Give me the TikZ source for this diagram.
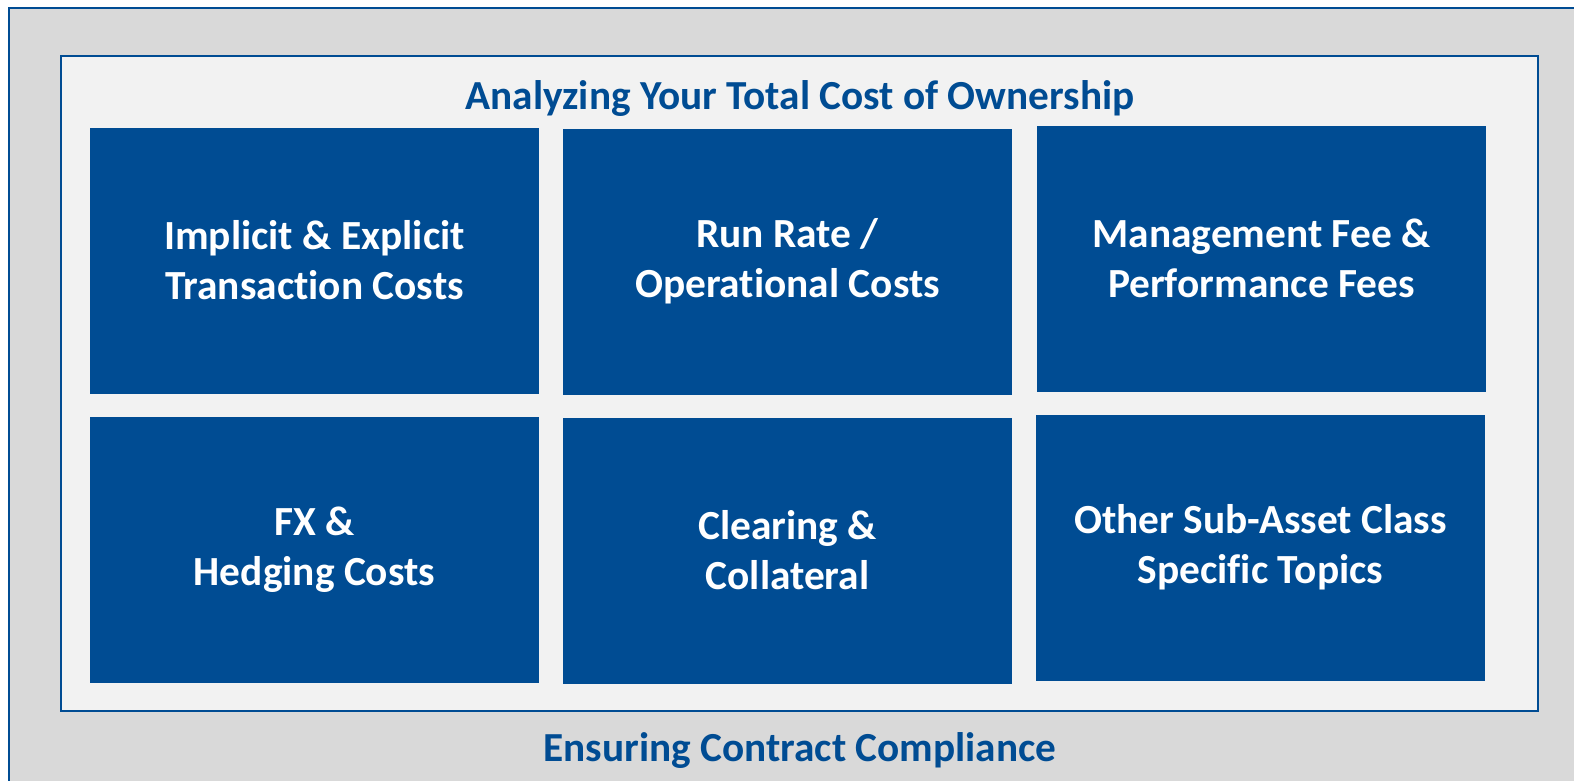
\documentclass[tikz,border=0pt]{standalone}
\usepackage{fontspec}
\setmainfont[Ligatures=NoCommon]{Carlito}
\definecolor{tcoblue}{HTML}{004C93}
\definecolor{outergray}{HTML}{D9D9D9}
\definecolor{innergray}{HTML}{F2F2F2}

\begin{document}
\begin{tikzpicture}[x=1pt,y=-1pt,line width=2pt,
  costbox/.style={fill=tcoblue,text=white,align=center,minimum width=449pt,minimum height=266pt,
    inner sep=0pt,font=\fontsize{41.4}{50}\selectfont\bfseries},
  headline/.style={text=tcoblue,font=\fontsize{41.3}{48}\selectfont\bfseries}]

\useasboundingbox(0,0) rectangle (1574,780);

\draw[draw=tcoblue,fill=outergray](9,8) rectangle (1590,800);
\draw[draw=tcoblue,fill=innergray](61,55.5) rectangle (1538,711);

\node[headline](title) at (800,99){Analyzing Your Total Cost of Ownership};

\node[costbox](implicit) at (314.5,260.5){Implicit \& Explicit\\Transaction Costs};
\node[costbox](runrate) at (787.5,261.5){Run Rate /\\Operational Costs};
\node[costbox](mgmtfee) at (1261.5,258.5){Management Fee \&\\Performance Fees};

\node[costbox](fxhedge) at (314.5,549.5){FX \&\\Hedging Costs};
\node[costbox](clearing) at (787.5,550.5){Clearing \&\\Collateral};
\node[costbox](other) at (1260.5,547.5){Other Sub-Asset Class\\Specific Topics};

\node[headline](compliance) at (800,750){Ensuring Contract Compliance};

\end{tikzpicture}
\end{document}
